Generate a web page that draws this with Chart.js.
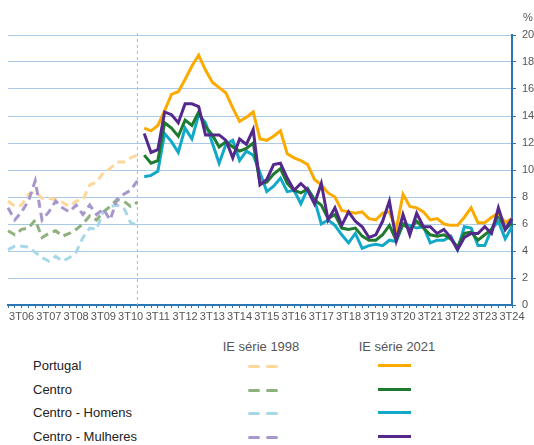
<!DOCTYPE html>
<html>
<head>
<meta charset="utf-8">
<script src="https://cdn.jsdelivr.net/npm/chart.js@4"></script>
<style>
  body { margin: 0; background: #fff; font-family: 'Liberation Sans', Arial, sans-serif; }
  #wrap { position: relative; width: 534px; height: 445px; overflow: hidden; }
  #box { position: absolute; left: 0; top: 0; width: 534px; height: 330px; }
  .hd { position: absolute; top: 339px; font-size: 13px; color: #555; transform: translateX(-50%); white-space: nowrap; }
  .lbl { position: absolute; left: 33px; font-size: 13px; color: #222; white-space: nowrap; }
  .dash { position: absolute; width: 12px; height: 3px; border-radius: 2px; }
  .solid { position: absolute; left: 378px; width: 33px; height: 3px; }
</style>
</head>
<body>
<div id="wrap">
  <div id="box"><canvas id="grafico"></canvas></div>
  <div id="legenda"></div>
</div>
<script>
// Eixo X - trimestres de 1T06 a 3T24
const anos = ['06','07','08','09','10','11','12','13','14','15','16','17','18','19','20','21','22','23','24'];
const trimestres = ['1T','2T','3T','4T'];
const labels = [];
anos.forEach(a => trimestres.forEach(t => labels.push(t + a)));
labels.length = 75; // termina em 3T24

// Eixo Y
const yMin = 0, yMax = 20, yPasso = 2;

// IE série 1998 (1T06 - 4T10)
const portugal1998 = [7.7, 7.3, 7.4, 8.2, 8.4, 7.9, 7.9, 7.8, 7.6, 7.3, 7.7, 7.8, 8.9, 9.1, 9.8, 10.1, 10.6, 10.6, 10.9, 11.1];
const centro1998   = [5.5, 5.2, 5.6, 5.7, 6.3, 5.0, 5.3, 5.5, 5.1, 5.3, 5.6, 6.0, 6.6, 6.3, 6.9, 7.3, 7.8, 7.7, 7.3, 7.6];
const homens1998   = [4.1, 4.35, 4.35, 4.3, 3.9, 3.5, 3.25, 3.6, 3.25, 3.5, 3.9, 5.0, 5.7, 5.6, 6.9, 7.3, 7.4, 7.2, 6.1, 5.9];
const mulheres1998 = [7.2, 6.3, 6.9, 7.7, 9.2, 6.3, 6.9, 7.7, 7.2, 6.9, 7.4, 6.7, 7.4, 6.7, 7.1, 6.3, 7.8, 8.2, 8.5, 9.2];

// IE série 2021 (1T11 - 3T24)
const portugal2021 = [13.1, 12.9, 13.3, 14.4, 15.6, 15.8, 16.7, 17.7, 18.5, 17.4, 16.5, 16.1, 15.7, 14.6, 13.6, 13.9, 14.3, 12.3, 12.2, 12.5, 12.9, 11.2, 10.9, 10.7, 10.4, 9.3, 8.9, 8.3, 8.0, 7.0, 6.9, 6.8, 6.9, 6.4, 6.3, 6.8, 6.9, 5.6, 8.2, 7.3, 7.2, 6.9, 6.3, 6.4, 6.0, 5.9, 5.9, 6.5, 7.2, 6.1, 6.1, 6.5, 6.8, 6.1, 6.4];
const centro2021   = [11.1, 10.5, 10.7, 13.5, 13.1, 12.5, 13.7, 13.3, 14.3, 13.2, 12.6, 11.7, 12.1, 11.7, 11.4, 11.6, 12.0, 9.0, 9.1, 9.7, 10.1, 9.0, 8.5, 8.3, 8.6, 7.8, 7.4, 6.4, 6.7, 5.7, 5.6, 5.7, 5.1, 4.8, 4.8, 5.2, 5.9, 4.8, 6.0, 5.6, 6.2, 5.7, 5.2, 5.1, 5.2, 4.9, 4.3, 5.3, 5.4, 4.8, 5.2, 5.6, 6.7, 5.6, 6.1];
const homens2021   = [9.5, 9.6, 9.9, 12.7, 12.1, 11.3, 13.1, 12.3, 14.1, 13.5, 12.0, 10.5, 11.9, 12.2, 10.7, 11.4, 11.1, 9.8, 8.4, 8.8, 9.4, 8.4, 8.5, 7.5, 8.6, 7.8, 6.0, 6.3, 5.9, 5.2, 4.6, 5.3, 4.2, 4.4, 4.5, 4.4, 4.8, 4.7, 6.0, 5.9, 5.7, 5.8, 4.6, 4.8, 4.8, 5.1, 4.1, 5.8, 5.7, 4.4, 4.4, 5.6, 6.2, 4.9, 5.8];
const mulheres2021 = [12.7, 11.3, 11.5, 14.3, 14.1, 13.5, 14.9, 14.9, 14.7, 12.6, 12.6, 12.6, 12.2, 10.9, 12.3, 11.9, 13.0, 8.9, 9.3, 10.4, 10.5, 9.4, 8.5, 9.0, 8.5, 7.5, 9.0, 6.3, 7.2, 5.9, 6.9, 6.2, 5.8, 5.0, 5.2, 6.2, 7.7, 4.8, 6.7, 5.2, 6.8, 5.8, 5.8, 5.3, 5.6, 5.0, 4.1, 5.0, 5.3, 5.3, 5.8, 5.3, 7.2, 5.6, 6.4];

const nomes = ['Portugal', 'Centro', 'Centro - Homens', 'Centro - Mulheres'];
const cores1998 = ['#fdd89a', '#8fb17e', '#a6d8e8', '#a797cc'];
const cores2021 = ['#fbab00', '#1d7a2f', '#12a8c8', '#55288c'];
const ordem = [1, 2, 3, 0]; // mulheres por cima

// posicoes nos trimestres
const corte = portugal1998.length - 1; // 4T10
const antes = v => v.concat(Array(labels.length - v.length).fill(null));
const depois = v => Array(labels.length - v.length).fill(null).concat(v);

const series1998 = [portugal1998, centro1998, homens1998, mulheres1998];
const series2021 = [portugal2021, centro2021, homens2021, mulheres2021];

const datasets = [];
nomes.forEach((n, k) => {
  datasets.push({
    label: n + ' (IE série 1998)',
    data: antes(series1998[k]),
    borderColor: cores1998[k],
    borderWidth: 3,
    borderDash: [8, 5],
    pointRadius: 0,
    order: ordem[k] + 4
  });
  datasets.push({
    label: n + ' (IE série 2021)',
    data: depois(series2021[k]),
    borderColor: cores2021[k],
    borderWidth: 3,
    pointRadius: 0,
    order: ordem[k]
  });
});

// linha vertical tracejada e simbolo %
const extras = {
  id: 'extras',
  beforeDatasetsDraw(chart) {
    const ctx = chart.ctx, a = chart.chartArea;
    const x = chart.scales.x.getPixelForValue(corte);
    ctx.save();
    ctx.strokeStyle = '#9dbfdd';
    ctx.lineWidth = 1;
    ctx.setLineDash([3, 3]);
    ctx.beginPath();
    ctx.moveTo(x, a.top - 2);
    ctx.lineTo(x, a.bottom);
    ctx.stroke();
    ctx.restore();
  },
  afterDraw(chart) {
    const ctx = chart.ctx, a = chart.chartArea;
    ctx.save();
    ctx.fillStyle = '#555';
    ctx.font = "11px 'Liberation Sans', Arial, sans-serif";
    ctx.textAlign = 'left';
    ctx.textBaseline = 'middle';
    ctx.fillText('%', a.right + 11, a.top - 17);
    ctx.restore();
  }
};

Chart.defaults.font.family = "'Liberation Sans', Arial, sans-serif";

const config = {
  type: 'line',
  data: { labels: labels, datasets: datasets },
  options: {
    responsive: true,
    maintainAspectRatio: false,
    animation: false,
    layout: { padding: { left: 8, right: 0, top: 35, bottom: 3 } },
    plugins: { legend: { display: false }, tooltip: { enabled: false } },
    elements: { line: { tension: 0, borderCapStyle: 'butt', borderJoinStyle: 'miter' } },
    scales: {
      x: {
        offset: false,
        grid: { display: true, drawOnChartArea: false, drawTicks: true, tickLength: 3, color: '#2a75b3', lineWidth: 1 },
        border: { display: true, color: '#2a75b3', width: 2 },
        ticks: {
          autoSkip: false, maxRotation: 0, minRotation: 0, padding: 2,
          color: '#555', font: { size: 11 },
          callback: (v, i) => (i % 4 === 2 ? labels[i] : '')
        },
        afterFit: s => { s.height = 22; }
      },
      y: {
        position: 'right',
        min: yMin, max: yMax,
        grid: { color: '#a9c9e8', lineWidth: 1, drawTicks: true, tickLength: 4, tickColor: '#2a75b3' },
        border: { display: true, color: '#2a75b3', width: 2 },
        ticks: { stepSize: yPasso, padding: 6, color: '#555', font: { size: 11 } },
        afterFit: s => { s.width = 22; }
      }
    }
  },
  plugins: [extras]
};

const grafico = new Chart(document.getElementById('grafico'), config);

// Legenda em duas colunas (série 1998 / série 2021)
const leg = document.getElementById('legenda');
const linhasY = [366, 390, 413, 437];
leg.innerHTML =
  '<div class="hd" style="left:261px">IE série 1998</div>' +
  '<div class="hd" style="left:397px">IE série 2021</div>' +
  nomes.map((n, k) => {
    const y = linhasY[k];
    return '<div class="lbl" style="top:' + (y - 8) + 'px">' + n + '</div>' +
      '<div class="dash" style="left:248px;top:' + (y - 1) + 'px;background:' + cores1998[k] + '"></div>' +
      '<div class="dash" style="left:266px;top:' + (y - 1) + 'px;background:' + cores1998[k] + '"></div>' +
      '<div class="solid" style="top:' + (y - 2) + 'px;background:' + cores2021[k] + '"></div>';
  }).join('');
</script>
</body>
</html>
